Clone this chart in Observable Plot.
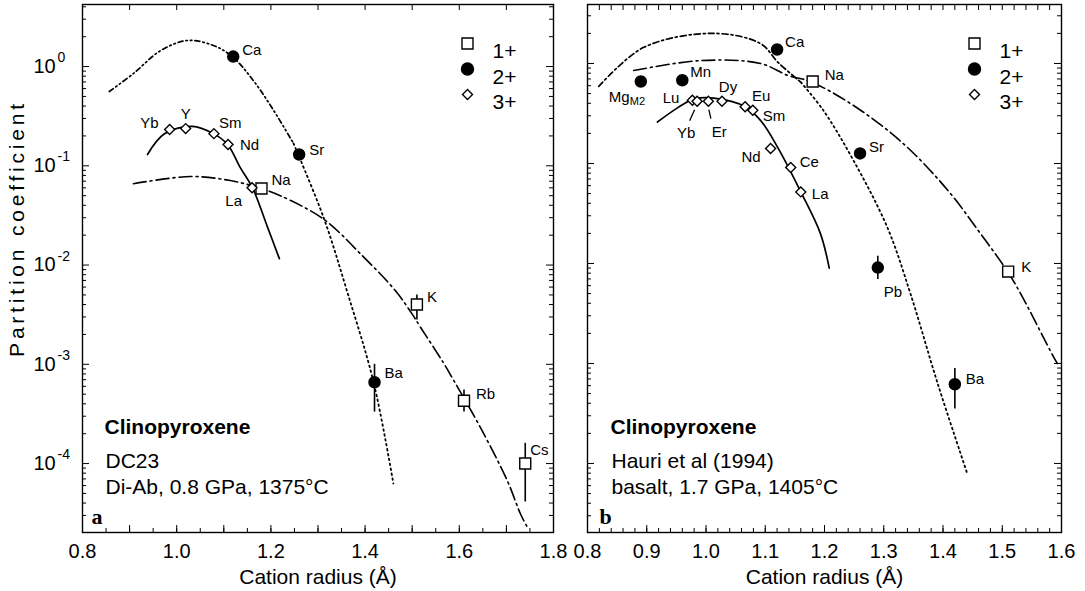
<!DOCTYPE html>
<html><head><meta charset="utf-8">
<script src="https://cdn.jsdelivr.net/npm/d3@7"></script>
<script src="https://cdn.jsdelivr.net/npm/@observablehq/plot@0.6"></script>
<style>
body{margin:0;background:#fff;}
#wrap{position:relative;width:1085px;height:591px;overflow:hidden;background:#fff;}
#wrap svg{position:absolute;top:0;overflow:visible;}
</style></head><body><div id="wrap"></div>
<script>
// ---------- Panel a : DC23, Di-Ab, 0.8 GPa, 1375°C ----------
const aIon1 = ["Na","K","Rb","Cs"];
const aR1   = [1.18, 1.51, 1.61, 1.74];
const aD1   = [0.059, 0.0040, 0.00043, 0.00010];
const aLo1  = [null, 0.0028, 0.00033, 0.000041];
const aHi1  = [null, 0.0050, 0.00055, 0.00016];
const aIon2 = ["Ca","Sr","Ba"];
const aR2   = [1.12, 1.26, 1.42];
const aD2   = [1.26, 0.13, 0.00066];
const aLo2  = [null, null, 0.00033];
const aHi2  = [null, null, 0.0010];
const aIon3 = ["Yb","Y","Sm","Nd","La"];
const aR3   = [0.985, 1.019, 1.079, 1.109, 1.16];
const aD3   = [0.232, 0.237, 0.211, 0.164, 0.060];
// fitted curves
const aCurve1R = [0.908,1.029,1.114,1.18,1.22,1.312,1.39,1.4645,1.50,1.5176,1.566,1.588,1.645,1.702,1.73,1.745];
const aCurve1D = [0.066,0.078,0.071,0.059,0.050,0.029,0.013,0.0055,0.0032,0.00236,0.00104,0.00069,0.00023,0.000067,0.000031,0.0000226];
const aCurve2R = [0.857,0.908,0.966,1.023,1.078,1.118,1.163,1.206,1.248,1.312,1.363,1.418,1.46];
const aCurve2D = [0.56,0.85,1.45,1.83,1.63,1.26,0.72,0.36,0.168,0.030,0.0052,0.00066,0.000063];
const aCurve3R = [0.938,0.974,1.033,1.078,1.108,1.135,1.161,1.193,1.218];
const aCurve3D = [0.13,0.21,0.25,0.211,0.164,0.096,0.060,0.024,0.0116];

// ---------- Panel b : Hauri et al (1994), basalt, 1.7 GPa, 1405°C ----------
const bIon1 = ["Na","K"];
const bR1   = [1.18, 1.51];
const bD1   = [0.66, 0.0083];
const bIon2 = ["Mg","Mn","Ca","Sr","Pb","Ba"];
const bR2   = [0.89, 0.96, 1.12, 1.26, 1.29, 1.42];
const bD2   = [0.66, 0.68, 1.38, 0.126, 0.0091, 0.00062];
const bLo2  = [null, null, null, null, 0.0069, 0.00035];
const bHi2  = [null, null, null, null, 0.0118, 0.00089];
const bIon3 = ["Lu","Yb","Er","Dy","Eu","Sm","Nd","Ce","La"];
const bR3   = [0.977, 0.985, 1.004, 1.027, 1.066, 1.079, 1.109, 1.143, 1.16];
const bD3   = [0.43, 0.42, 0.42, 0.42, 0.37, 0.34, 0.141, 0.091, 0.052];
const bCurve1R = [0.878,0.991,1.092,1.138,1.176,1.249,1.333,1.408,1.463,1.509,1.531,1.587,1.593];
const bCurve1D = [0.85,1.07,1.0,0.76,0.66,0.38,0.158,0.054,0.020,0.0083,0.005,0.00115,0.001];
const bCurve2R = [0.819,0.895,1.013,1.092,1.122,1.160,1.198,1.249,1.306,1.345,1.391,1.441];
const bCurve2D = [0.59,1.45,2.0,1.58,1.02,0.65,0.34,0.107,0.023,0.005,0.00063,0.000079];
const bCurve3R = [0.918,0.952,0.979,1.013,1.066,1.092,1.121,1.160,1.193,1.208];
const bCurve3D = [0.26,0.36,0.44,0.45,0.37,0.27,0.145,0.052,0.020,0.009];

// ---------- axes / legend text ----------
const aXTicks = [0.8,1.0,1.2,1.4,1.6,1.8];
const aXTickLabels = ["0.8","1.0","1.2","1.4","1.6","1.8"];
const bXTicks = [0.8,0.9,1.0,1.1,1.2,1.3,1.4,1.5,1.6];
const bXTickLabels = ["0.8","0.9","1.0","1.1","1.2","1.3","1.4","1.5","1.6"];
const yTicks = [1, 0.1, 0.01, 0.001, 0.0001];
const yTickBase = ["10","10","10","10","10"];
const yTickExp = ["0","-1","-2","-3","-4"];
const legendLabels = ["1+","2+","3+"];
const subscripts = {Mg: "M2"};

// ---------- layout (not data) ----------
const FONT = "Liberation Sans, Arial, Helvetica, sans-serif";
const H = 591, MT = 4, MB = 59;
const labelLayoutA = {Ca:[9,-6,"start"], Sr:[10,-4,"start"], Ba:[10,-9,"start"], Na:[10,-8,"start"],
  K:[10,-7,"start"], Rb:[12,-6,"start"], Cs:[5,-13,"start"], Yb:[-11,-6,"end"], Y:[0,-14,"middle"],
  Sm:[5,-10,"start"], Nd:[12,1,"start"], La:[-10,13,"end"]};
const labelLayoutB = {Mg:[-32,16,"start"], Mn:[8,-8,"start"], Ca:[8,-7,"start"], Na:[12,-6,"start"],
  Sr:[9,-6,"start"], Pb:[6,25,"start"], K:[13,-4,"start"], Ba:[11,-5,"start"], Lu:[-13,-2,"end"],
  Yb:[-11,32,"middle"], Er:[11,31,"middle"], Dy:[6,-14,"middle"], Eu:[7,-10,"start"], Sm:[10,6,"start"],
  Nd:[-10,9,"end"], Ce:[9,-5,"start"], La:[11,2,"start"]};

function rows(names, R, D, lo, hi) {
  return names.map((n, i) => ({name: n, r: R[i], D: D[i], lo: lo ? lo[i] : null, hi: hi ? hi[i] : null}));
}
function pts(R, D) { return R.map((r, i) => ({r, D: D[i]})); }

function panel(o) {
  const fw = o.width - o.ml - o.mr, fh = H - MT - MB;
  const [d0, d1] = o.yDomain;
  const yMinor = [];
  for (let e = -5; e <= 1; e++) for (let k = 2; k <= 9; k++) {
    const v = k * Math.pow(10, e);
    if (v > d0 && v < d1) yMinor.push(v);
  }
  const marks = [];
  // ticks (inward)
  marks.push(Plot.tickX(o.xMinor, {x: d => d, insetTop: fh - 4, stroke: "black"}));
  marks.push(Plot.tickX(o.xMid, {x: d => d, insetTop: fh - 7, stroke: "black"}));
  marks.push(Plot.tickX(o.xTop, {x: d => d, insetBottom: fh - 6, stroke: "black"}));
  marks.push(Plot.tickY(yMinor, {y: d => d, insetRight: fw - 4, stroke: "black"}));
  marks.push(Plot.tickY(yTicks, {y: d => d, insetRight: fw - 7, stroke: "black"}));
  marks.push(Plot.tickY(yMinor, {y: d => d, insetLeft: fw - 4, stroke: "black"}));
  marks.push(Plot.tickY(yTicks, {y: d => d, insetLeft: fw - 7, stroke: "black"}));
  marks.push(Plot.frame({stroke: "black", strokeWidth: 1.4}));
  // x tick labels
  marks.push(Plot.text(o.xTicks, {x: d => d, frameAnchor: "bottom", text: o.xTickLabels, dy: 11,
    lineAnchor: "top", fontSize: 20, fill: "black"}));
  marks.push(Plot.text(["Cation radius (Å)"], {frameAnchor: "bottom", text: d => d, dy: 51,
    lineAnchor: "bottom", fontSize: 21, fill: "black"}));
  if (o.yLabels) {
    marks.push(Plot.text(yTicks, {y: d => d, frameAnchor: "left", text: yTickBase, dx: -49,
      textAnchor: "start", fontSize: 20, fill: "black"}));
    marks.push(Plot.text(yTicks, {y: d => d, frameAnchor: "left", text: yTickExp, dx: -25, dy: -9,
      textAnchor: "start", fontSize: 14, fill: "black"}));
    marks.push(Plot.text(["Partition coefficient"], {frameAnchor: "left", text: d => d, rotate: -90,
      textAnchor: "middle", dx: -65, dy: -40, fontSize: 21, fill: "black"}));
  }
  // curves
  const cv = "catmull-rom";
  marks.push(Plot.line(o.c3, {x: "r", y: "D", curve: cv, stroke: "black", strokeWidth: 1.7}));
  marks.push(Plot.line(o.c1, {x: "r", y: "D", curve: cv, stroke: "black", strokeWidth: 1.6,
    strokeDasharray: "13,4,2,4"}));
  marks.push(Plot.line(o.c2, {filter: d => d.r <= o.split2, x: "r", y: "D", curve: cv, stroke: "black",
    strokeWidth: 1.7, strokeDasharray: o.dash2}));
  marks.push(Plot.line(o.c2, {filter: d => d.r >= o.split2, x: "r", y: "D", curve: cv, stroke: "black",
    strokeWidth: 1.8, strokeDasharray: "1.6,3.4"}));
  // error bars
  const all = [...o.p1, ...o.p2, ...o.p3];
  marks.push(Plot.ruleX(all.filter(d => d.lo != null), {x: "r", y1: "lo", y2: "hi", stroke: "black", strokeWidth: 1.6}));
  // points
  marks.push(Plot.dot(o.p1, {x: "r", y: "D", symbol: "square", r: 6.2, fill: "white", stroke: "black", strokeWidth: 1.4}));
  marks.push(Plot.dot(o.p2, {x: "r", y: "D", symbol: "circle", r: 5.5, fill: "black", stroke: "black"}));
  marks.push(Plot.dot(o.p3, {x: "r", y: "D", symbol: "diamond2", r: 4.5, fill: "white", stroke: "black", strokeWidth: 1.4}));
  // point labels
  for (const d of all) {
    const [dx, dy, anchor] = o.layout[d.name];
    marks.push(Plot.text([d], {x: "r", y: "D", text: "name", dx, dy, textAnchor: anchor, fontSize: 15, fill: "black"}));
    if (subscripts[d.name]) {
      marks.push(Plot.text([d], {x: "r", y: "D", text: () => subscripts[d.name], dx: dx + 21, dy: dy + 4,
        textAnchor: "start", fontSize: 11, fill: "black"}));
    }
  }
  // legend
  const syms = [["square", 6.2, "white"], ["circle", 6, "black"], ["diamond2", 4.5, "white"]];
  legendLabels.forEach((lab, i) => {
    const [s, r, f] = syms[i];
    marks.push(Plot.dot([lab], {frameAnchor: "top-left", dx: o.legX, dy: 39 + i * 25.5, symbol: s, r, fill: f,
      stroke: "black", strokeWidth: 1.4}));
    marks.push(Plot.text([lab], {frameAnchor: "top-left", dx: o.legX + 25, dy: 39 + i * 25.5, text: d => d,
      textAnchor: "start", fontSize: 21, fill: "black"}));
  });
  // annotation block
  marks.push(Plot.text(["Clinopyroxene"], {frameAnchor: "bottom-left", text: d => d, dx: o.txtX, dy: -99,
    lineAnchor: "bottom", textAnchor: "start", fontSize: 21, fontWeight: "bold", fill: "black"}));
  o.notes.forEach((t, i) => {
    marks.push(Plot.text([t], {frameAnchor: "bottom-left", text: d => d, dx: o.txtX + 1, dy: i === 0 ? -65 : -39,
      lineAnchor: "bottom", textAnchor: "start", fontSize: 21, fill: "black"}));
  });
  marks.push(Plot.text([o.letter], {frameAnchor: "bottom-left", text: d => d, dx: o.letterX, dy: -9,
    lineAnchor: "bottom", textAnchor: "start", fontSize: 22, fontWeight: "bold", fontFamily: "Liberation Serif, serif", fill: "black"}));

  const svg = Plot.plot({
    width: o.width, height: H, marginLeft: o.ml, marginRight: o.mr, marginTop: MT, marginBottom: MB,
    x: {domain: o.xDomain, axis: null},
    y: {type: "log", domain: o.yDomain, axis: null},
    style: {fontFamily: FONT, fontSize: "15px", background: "transparent", overflow: "visible"},
    marks
  });
  // wide tracking of the y-axis title, as in the original
  d3.select(svg).selectAll("text").filter(function() { return this.textContent === "Partition coefficient"; })
    .style("letter-spacing", "3.8px");
  // short leader lines (pixel offsets from their points, via the plot's scales)
  if (o.leaders) {
    const sx = svg.scale("x"), sy = svg.scale("y");
    const g = d3.select(svg).append("g").attr("stroke", "black").attr("stroke-width", 1.3);
    for (const [name, a, b] of o.leaders) {
      const d = all.find(p => p.name === name);
      const px = sx.apply(d.r), py = sy.apply(d.D);
      g.append("line").attr("x1", px + a[0]).attr("y1", py + a[1]).attr("x2", px + b[0]).attr("y2", py + b[1]);
    }
  }
  return svg;
}

const wrap = document.getElementById("wrap");
const svgA = panel({
  width: 570, ml: 82, mr: 17, xDomain: [0.8, 1.8], yDomain: [2.02e-5, 4.22],
  xTicks: aXTicks, xTickLabels: aXTickLabels,
  xMinor: d3.range(0.8, 1.8001, 0.05), xMid: d3.range(0.8, 1.8001, 0.1), xTop: d3.range(0.8, 1.8001, 0.1),
  yLabels: true,
  c1: pts(aCurve1R, aCurve1D), c2: pts(aCurve2R, aCurve2D), c3: pts(aCurve3R, aCurve3D),
  split2: 1.248, dash2: "5,3,1.5,3,1.5,3",
  p1: rows(aIon1, aR1, aD1, aLo1, aHi1), p2: rows(aIon2, aR2, aD2, aLo2, aHi2), p3: rows(aIon3, aR3, aD3),
  layout: labelLayoutA, legX: 385, txtX: 22, letterX: 9, letter: "a",
  notes: ["DC23", "Di-Ab, 0.8 GPa, 1375°C"]
});
svgA.style.left = "0px";
wrap.appendChild(svgA);

const svgB = panel({
  width: 515, ml: 17, mr: 24, xDomain: [0.8, 1.6], yDomain: [2.04e-5, 3.89],
  xTicks: bXTicks, xTickLabels: bXTickLabels,
  xMinor: d3.range(0.8, 1.6001, 0.02), xMid: d3.range(0.8, 1.6001, 0.1), xTop: d3.range(0.8, 1.6001, 0.02),
  yLabels: false,
  c1: pts(bCurve1R, bCurve1D), c2: pts(bCurve2R, bCurve2D), c3: pts(bCurve3R, bCurve3D),
  split2: 1.160, dash2: "6,3,2,3",
  p1: rows(bIon1, bR1, bD1), p2: rows(bIon2, bR2, bD2, bLo2, bHi2), p3: rows(bIon3, bR3, bD3),
  layout: labelLayoutB, legX: 387, txtX: 23, letterX: 12, letter: "b",
  notes: ["Hauri et al (1994)", "basalt, 1.7 GPa, 1405°C"],
  leaders: [["Yb", [-2, 9], [-7, 20]], ["Er", [1, 9], [3, 18]]]
});
svgB.style.left = "570px";
wrap.appendChild(svgB);
</script>
</body></html>
